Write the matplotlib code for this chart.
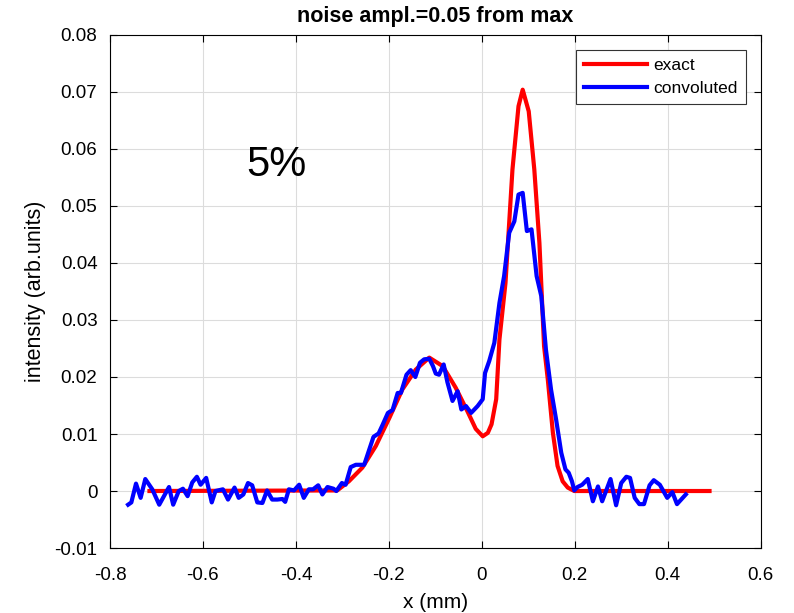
import matplotlib
matplotlib.use("Agg")
import matplotlib.pyplot as plt

plt.rcParams['font.family'] = ['Liberation Sans', 'DejaVu Sans']

# exact profile
x_exact = [-0.715, -0.311, -0.286, -0.257, -0.228, -0.199, -0.171, -0.142, -0.113,
           -0.084, -0.056, -0.031, -0.013, 0.002, 0.013, 0.021, 0.031, 0.038,
           0.051, 0.066, 0.079, 0.088, 0.101, 0.113, 0.124, 0.134, 0.142, 0.153,
           0.163, 0.174, 0.185, 0.199, 0.49]
y_exact = [0.0, 0.0001, 0.0017, 0.0041, 0.0079, 0.0128, 0.0178, 0.0213, 0.0234,
           0.0219, 0.0181, 0.0140, 0.0109, 0.0096, 0.0102, 0.0117, 0.0161, 0.0266,
           0.0365, 0.0564, 0.0675, 0.0704, 0.0666, 0.0564, 0.0435, 0.0254, 0.0196, 0.0102,
           0.0044, 0.0017, 0.0006, 0.0, 0.0]

# convoluted (noisy) profile
x_conv = [-0.761, -0.754, -0.744, -0.734, -0.724, -0.709, -0.694, -0.673, -0.664, -0.652,
          -0.643, -0.633, -0.623, -0.613, -0.605, -0.593, -0.581, -0.573, -0.557, -0.546,
          -0.532, -0.523, -0.513, -0.503, -0.494, -0.483, -0.472, -0.462, -0.451, -0.440,
          -0.429, -0.423, -0.415, -0.404, -0.393, -0.383, -0.372, -0.363, -0.352, -0.343,
          -0.332, -0.319, -0.313, -0.301, -0.293, -0.282, -0.271, -0.253, -0.242, -0.233,
          -0.222, -0.214, -0.202, -0.192, -0.181, -0.174, -0.162, -0.153, -0.143, -0.133,
          -0.124, -0.113, -0.105, -0.099, -0.092, -0.082, -0.074, -0.063, -0.052, -0.044,
          -0.034, -0.023, -0.009, 0.002, 0.007, 0.016, 0.027, 0.038, 0.048, 0.059,
          0.070, 0.079, 0.088, 0.097, 0.107, 0.118, 0.128, 0.138, 0.149, 0.160,
          0.171, 0.180, 0.187, 0.194, 0.199, 0.206, 0.216, 0.228, 0.239, 0.250,
          0.259, 0.277, 0.289, 0.300, 0.311, 0.319, 0.329, 0.339, 0.349, 0.361,
          0.370, 0.383, 0.399, 0.410, 0.420, 0.439]
y_conv = [-0.0024, -0.0020, 0.0013, -0.0012, 0.0021, 0.0003, -0.0024, 0.0007, -0.0024, 0.0,
          0.0004, -0.0009, 0.0015, 0.0025, 0.0011, 0.0023, -0.0020, 0.0, 0.0003, -0.0015,
          0.0006, -0.0012, -0.0006, 0.0014, 0.0010, -0.0020, -0.0021, 0.0001, -0.0015, -0.0015,
          -0.0014, -0.0019, 0.0003, 0.0001, 0.0011, -0.0012, 0.0003, 0.0003, 0.0010, -0.0006,
          0.0007, 0.0004, 0.0, 0.0014, 0.0011, 0.0042, 0.0046, 0.0046, 0.0073, 0.0095,
          0.0101, 0.0115, 0.0137, 0.0142, 0.0172, 0.0172, 0.0204, 0.0212, 0.0200, 0.0225,
          0.0231, 0.0232, 0.0219, 0.0206, 0.0204, 0.0222, 0.0191, 0.0158, 0.0175, 0.0143,
          0.0149, 0.0137, 0.0149, 0.0161, 0.0207, 0.0228, 0.0260, 0.0330, 0.0377, 0.0453,
          0.0473, 0.0520, 0.0523, 0.0456, 0.0459, 0.0377, 0.0342, 0.0248, 0.0178, 0.0125,
          0.0067, 0.0038, 0.0032, 0.0017, 0.0001, 0.0007, 0.0011, 0.0021, -0.0018, 0.0008,
          -0.0018, 0.0021, -0.0025, 0.0014, 0.0025, 0.0023, -0.0012, -0.0023, -0.0023, 0.0010,
          0.0019, 0.0011, -0.0012, -0.0002, -0.0023, -0.0006]

x_ticks = [-0.8, -0.6, -0.4, -0.2, 0, 0.2, 0.4, 0.6]
x_ticklabels = ['-0.8', '-0.6', '-0.4', '-0.2', '0', '0.2', '0.4', '0.6']
y_ticks = [-0.01, 0, 0.01, 0.02, 0.03, 0.04, 0.05, 0.06, 0.07, 0.08]
y_ticklabels = ['-0.01', '0', '0.01', '0.02', '0.03', '0.04', '0.05', '0.06', '0.07', '0.08']

fig = plt.figure(figsize=(7.94, 6.13), dpi=100)
ax = fig.add_axes([0.1385, 0.106, 0.8195, 0.837])

ax.plot(x_exact, y_exact, color='#ff0000', lw=3, label='exact')
ax.plot(x_conv, y_conv, color='#0000ff', lw=3, label='convoluted')

ax.set_xlim(-0.8, 0.6)
ax.set_ylim(-0.01, 0.08)
ax.set_xticks(x_ticks)
ax.set_xticklabels(x_ticklabels)
ax.set_yticks(y_ticks)
ax.set_yticklabels(y_ticklabels)
ax.tick_params(direction='in', top=True, right=True, labelsize=13.5, length=5)
ax.tick_params(axis='x', pad=14)
ax.tick_params(axis='y', pad=9)
ax.grid(True, color='#dcdcdc', lw=0.8)
ax.set_axisbelow(True)
for s in ax.spines.values():
    s.set_linewidth(0.8)

ax.set_xlabel('x (mm)', fontsize=15, labelpad=6)
ax.set_ylabel('intensity (arb.units)', fontsize=15.5, labelpad=6)
ax.set_title('noise ampl.=0.05 from max', fontsize=15.5, fontweight='bold', pad=9)

ax.text(-0.507, 0.0552, '5%', fontsize=30, ha='left', va='baseline')

leg = ax.legend(loc='upper right', fontsize=12.5, fancybox=False, framealpha=1,
                edgecolor='#333333', handlelength=3.6, borderaxespad=0.85,
                labelspacing=0.5, handletextpad=0.4, borderpad=0.45)
leg.get_frame().set_linewidth(0.8)

fig.savefig('out.png', dpi=100)
